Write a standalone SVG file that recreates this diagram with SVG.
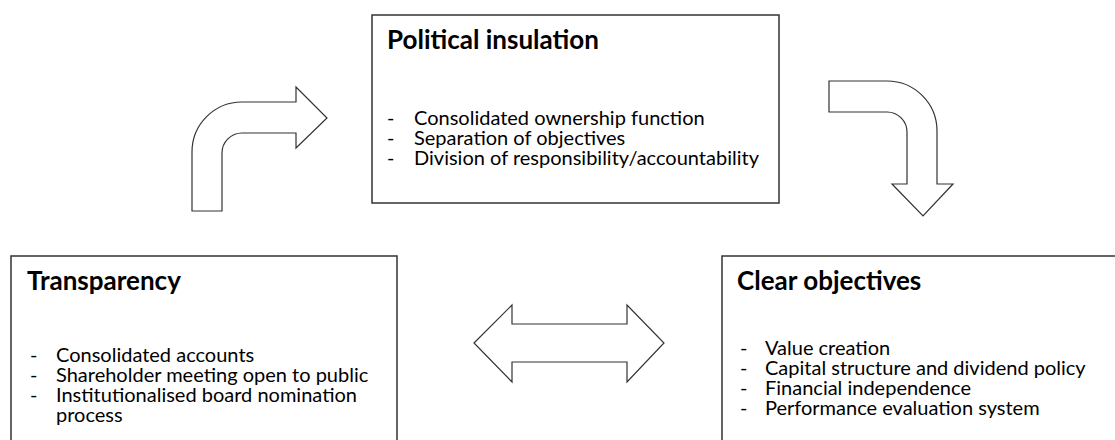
<svg xmlns="http://www.w3.org/2000/svg" width="1115" height="440" viewBox="0 0 1115 440">
<style>
.box{fill:#fff;stroke:#333;stroke-width:1.5}
.arr{fill:#fff;stroke:#333;stroke-width:1.2;stroke-linejoin:miter}
.t{font-family:Lato,"Liberation Sans",sans-serif;font-weight:bold;font-size:26px;fill:#000}
.b{font-family:Lato,"Liberation Sans",sans-serif;font-size:20px;fill:#000}
</style>
<rect width="1115" height="440" fill="#fff"/>
<g id="political">
<rect class="box" x="372" y="15" width="407" height="188"/>
<text class="t" x="387" y="49">Political insulation</text>
<text class="b"><tspan x="387" y="125">-</tspan><tspan x="414" y="125">Consolidated ownership function</tspan><tspan x="387" y="145">-</tspan><tspan x="414" y="145">Separation of objectives</tspan><tspan x="387" y="165">-</tspan><tspan x="414" y="165">Division of responsibility/accountability</tspan></text>
</g>
<g id="transparency">
<rect class="box" x="11" y="256" width="386" height="200"/>
<text class="t" x="27" y="290">Transparency</text>
<text class="b"><tspan x="30" y="362">-</tspan><tspan x="56" y="362">Consolidated accounts</tspan><tspan x="30" y="382">-</tspan><tspan x="56" y="382">Shareholder meeting open to public</tspan><tspan x="30" y="402">-</tspan><tspan x="56" y="402">Institutionalised board nomination</tspan><tspan x="56" y="422">process</tspan></text>
</g>
<g id="clear">
<rect class="box" x="722" y="256" width="410" height="200"/>
<text class="t" x="737" y="290">Clear objectives</text>
<text class="b"><tspan x="740" y="355">-</tspan><tspan x="765" y="355">Value creation</tspan><tspan x="740" y="375">-</tspan><tspan x="765" y="375">Capital structure and dividend policy</tspan><tspan x="740" y="395">-</tspan><tspan x="765" y="395">Financial independence</tspan><tspan x="740" y="415">-</tspan><tspan x="765" y="415">Performance evaluation system</tspan></text>
</g>
<g id="connectors">
<path class="arr" d="M192,211 L192,152 A50,50 0 0 1 242,102 L296,102 L296,87 L327,118 L296,148 L296,133 L242,133 A20,20 0 0 0 222,153 L222,211 Z"/>
<path class="arr" d="M829,81 L887,81 A50,50 0 0 1 937,131 L937,184 L953,184 L923,216 L892,184 L907,184 L907,132 A20,20 0 0 0 887,112 L829,112 Z"/>
<path class="arr" d="M474,343 L512,305 L512,324 L627,324 L627,305 L664,343 L627,382 L627,362 L512,362 L512,382 Z"/>
</g>
</svg>
